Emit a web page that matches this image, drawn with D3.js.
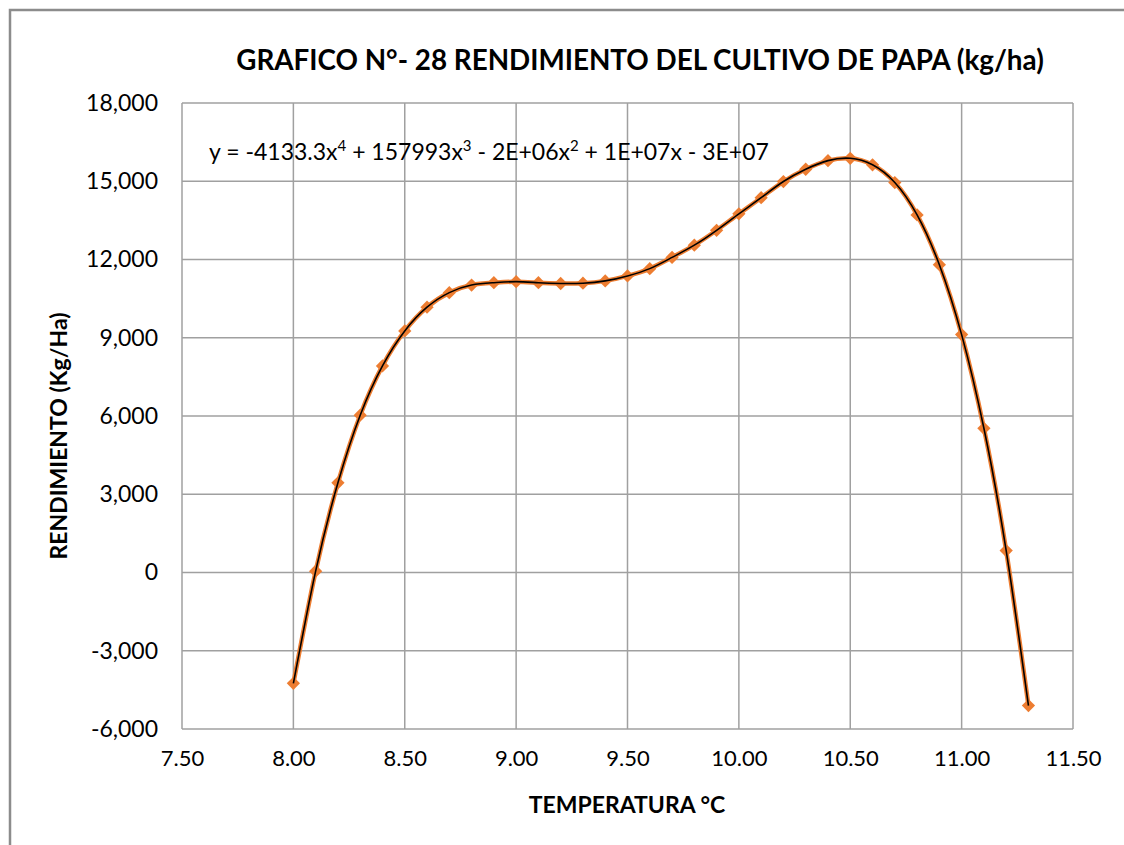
<!DOCTYPE html>
<html>
<head>
<meta charset="utf-8">
<title>Rendimiento del cultivo de papa</title>
<script src="https://cdn.jsdelivr.net/npm/d3@7"></script>
<style>
body { margin: 0; background: #fff; }
text { font-family: Lato, "Open Sans", sans-serif; fill: #000; }
.grid line { stroke: #a0a0a0; stroke-width: 1.5px; }
.axis path, .axis line { display: none; }
</style>
</head>
<body>
<script>
// temperatura (°C)
var temperatura = [8.0, 8.1, 8.2, 8.3, 8.4, 8.5, 8.6, 8.7, 8.8, 8.9,
                   9.0, 9.1, 9.2, 9.3, 9.4, 9.5, 9.6, 9.7, 9.8, 9.9,
                   10.0, 10.1, 10.2, 10.3, 10.4, 10.5, 10.6, 10.7, 10.8, 10.9,
                   11.0, 11.1, 11.2, 11.3];
// rendimiento (kg/ha)
var rendimiento = [-4250, 50, 3440, 6030, 7920, 9260, 10170, 10730, 11020, 11110,
                   11150, 11110, 11080, 11090, 11180, 11370, 11650, 12080, 12550, 13120,
                   13750, 14370, 14990, 15460, 15790, 15880, 15630, 14950, 13710, 11800,
                   9120, 5530, 840, -5100];
var xTicks = [7.5, 8.0, 8.5, 9.0, 9.5, 10.0, 10.5, 11.0, 11.5];
var yTicks = [-6000, -3000, 0, 3000, 6000, 9000, 12000, 15000, 18000];

var width = 1124,
    height = 845;
var plotLeft = 182, plotRight = 1073, plotTop = 103, plotBottom = 729;

var data = temperatura.map(function(t, i) {
  return {x: t, y: rendimiento[i]};
});

var svg = d3.select("body").append("svg")
    .attr("width", width)
    .attr("height", height);

// outer chart frame
svg.append("rect")
    .attr("x", 10)
    .attr("y", 10)
    .attr("width", width + 20)
    .attr("height", height + 20)
    .attr("fill", "#fff")
    .attr("stroke", "#8c8c8c")
    .attr("stroke-width", 2.5);

var x = d3.scaleLinear().domain([7.5, 11.5]).range([plotLeft, plotRight]);
var y = d3.scaleLinear().domain([-6000, 18000]).range([plotBottom, plotTop]);

// gridlines
var grid = svg.append("g").attr("class", "grid");
grid.selectAll(".gy")
    .data(yTicks)
    .enter().append("line")
    .attr("x1", plotLeft).attr("x2", plotRight)
    .attr("y1", function(d) { return y(d); })
    .attr("y2", function(d) { return y(d); });
grid.selectAll(".gx")
    .data(xTicks)
    .enter().append("line")
    .attr("y1", plotTop).attr("y2", plotBottom)
    .attr("x1", function(d) { return x(d); })
    .attr("x2", function(d) { return x(d); });

// axes (labels only) - plain hyphen for negatives, like the original
var fmtY = d3.format(",");
svg.append("g")
    .attr("class", "axis")
    .attr("transform", "translate(" + plotLeft + ",0)")
    .call(d3.axisLeft(y).tickValues(yTicks).tickSize(0).tickPadding(24)
        .tickFormat(function(d) { return fmtY(d).replace("\u2212", "-"); }))
    .selectAll("text")
    .style("font-size", "23px")
    .style("font-family", "Lato, sans-serif");

svg.append("g")
    .attr("class", "axis")
    .attr("transform", "translate(0," + plotBottom + ")")
    .call(d3.axisBottom(x).tickValues(xTicks).tickSize(0).tickPadding(21)
        .tickFormat(d3.format(".2f")))
    .selectAll("text")
    .style("font-size", "22px")
    .style("font-family", "Lato, sans-serif");

// orange series line (smoothed)
var line = d3.line()
    .x(function(d) { return x(d.x); })
    .y(function(d) { return y(d.y); })
    .curve(d3.curveNatural);

svg.append("path")
    .datum(data)
    .attr("d", line)
    .attr("fill", "none")
    .attr("stroke", "#ed7d31")
    .attr("stroke-width", 4.5);

// markers
svg.append("g")
    .selectAll("path")
    .data(data)
    .enter().append("path")
    .attr("d", d3.symbol().type(d3.symbolSquare).size(88))
    .attr("transform", function(d) {
        return "translate(" + x(d.x) + "," + y(d.y) + ") rotate(45)";
    })
    .attr("fill", "#ed7d31");

// trendline (black)
svg.append("path")
    .datum(data)
    .attr("d", line)
    .attr("fill", "none")
    .attr("stroke", "#000")
    .attr("stroke-width", 1.6);

// equation
var eq = svg.append("text")
    .attr("x", 209)
    .attr("y", 160)
    .style("font-size", "23px");
var parts = [
  ["y = -4133.3x", "4"], [" + 157993x", "3"], [" - 2E+06x", "2"], [" + 1E+07x - 3E+07", null]
];
var shift = 0;
parts.forEach(function(p) {
  eq.append("tspan").attr("dy", shift).text(p[0]);
  shift = 0;
  if (p[1]) {
    eq.append("tspan").attr("dy", -9).style("font-size", "15px").text(p[1]);
    shift = 9;
  }
});

// title
svg.append("text")
    .attr("x", 640)
    .attr("y", 70)
    .attr("text-anchor", "middle")
    .style("font-size", "27.8px")
    .style("font-weight", "bold")
    .text("GRAFICO N°- 28 RENDIMIENTO DEL CULTIVO DE PAPA (kg/ha)");

// axis titles
svg.append("text")
    .attr("x", 627)
    .attr("y", 813)
    .attr("text-anchor", "middle")
    .style("font-size", "23px")
    .style("font-weight", "bold")
    .text("TEMPERATURA °C");

svg.append("text")
    .attr("transform", "translate(67,436) rotate(-90)")
    .attr("text-anchor", "middle")
    .style("font-size", "23px")
    .style("font-weight", "bold")
    .text("RENDIMIENTO (Kg/Ha)");
</script>
</body>
</html>
